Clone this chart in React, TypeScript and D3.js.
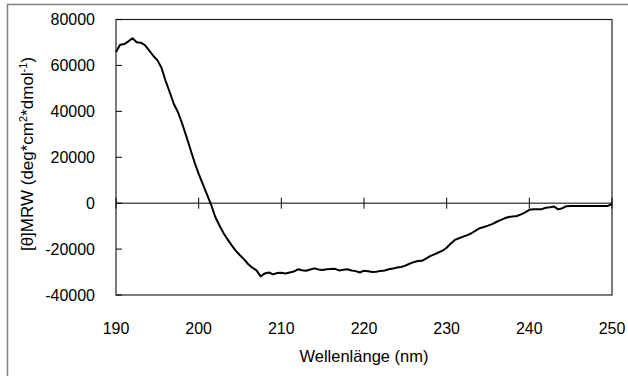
import React from "react";
import * as d3 from "d3";

// CD spectrum, mean residue ellipticity vs wavelength
const wavelengths: number[] = d3.range(190, 250.01, 0.5).map((v) => +v.toFixed(1));
const ellipticity: number[] = [
  65800, 69000, 69300, 70500, 71800, 70100, 69900, 68800, 66600, 64200,
  62300, 59000, 53300, 48300, 43200, 39600, 34700, 29200, 23500, 17800,
  12800, 8300, 3800, -600, -5900, -9600, -13000, -15800, -18400, -20800,
  -22700, -24500, -26600, -28100, -29300, -31900, -30600, -30200, -31000, -30400,
  -30300, -30600, -30200, -29800, -28800, -29200, -29400, -28900, -28400, -28900,
  -29100, -28800, -28700, -28600, -29300, -29000, -28800, -29300, -29600, -30200,
  -29400, -29700, -30000, -29900, -29500, -29300, -28800, -28500, -28000, -27800,
  -27200, -26400, -25700, -25200, -25100, -24200, -23100, -22300, -21500, -20700,
  -19400, -17600, -16000, -15300, -14600, -13900, -13100, -12000, -10900, -10400,
  -9800, -9100, -8200, -7400, -6600, -6000, -5800, -5600, -4900, -4000,
  -2900, -2700, -2700, -2600, -2000, -1800, -1500, -2700, -2200, -1300,
  -1200, -1200, -1200, -1200, -1200, -1200, -1200, -1200, -1200, -1200,
  -400,
];
const xTicks: number[] = [190, 200, 210, 220, 230, 240, 250];
const yTicks: number[] = [-40000, -20000, 0, 20000, 40000, 60000, 80000];

const W = 628;
const H = 376;
const plot = { left: 116, top: 19.5, right: 612, bottom: 295 };
const font = "'Liberation Sans', Arial, sans-serif";

export default function App() {
  const x = d3.scaleLinear().domain([190, 250]).range([plot.left, plot.right]);
  const y = d3.scaleLinear().domain([-40000, 80000]).range([plot.bottom, plot.top]);
  const pts = wavelengths.map((w, i) => [w, ellipticity[i]] as [number, number]);
  const line = d3
    .line<[number, number]>()
    .x((d) => x(d[0]))
    .y((d) => y(d[1]));
  const y0 = y(0);

  return (
    <svg
      width={W}
      height={H}
      style={{ position: "absolute", left: 0, top: 0, background: "#fff" }}
      fontFamily={font}
    >
      {/* chart frame */}
      <rect x={7.5} y={4.5} width={W + 10} height={H + 10} fill="#fff" stroke="#808080" strokeWidth={1.5} />
      {/* plot area */}
      <rect
        x={plot.left}
        y={plot.top}
        width={plot.right - plot.left}
        height={plot.bottom - plot.top}
        fill="none"
        stroke="#222"
        strokeWidth={1.2}
      />
      {/* y ticks and labels */}
      {yTicks.map((t) => (
        <g key={t}>
          <line x1={plot.left} x2={plot.left + 6} y1={y(t)} y2={y(t)} stroke="#000" strokeWidth={1} />
          <text x={95} y={y(t)} dy="0.36em" textAnchor="end" fontSize={16} fill="#000">
            {t}
          </text>
        </g>
      ))}
      {/* horizontal axis at zero */}
      <line x1={plot.left} x2={plot.right} y1={y0} y2={y0} stroke="#000" strokeWidth={1} />
      {xTicks.map((t) => (
        <g key={t}>
          <line x1={x(t)} x2={x(t)} y1={y0 - 5.5} y2={y0 + 5.5} stroke="#000" strokeWidth={1} />
          <text x={x(t)} y={334} textAnchor="middle" fontSize={16} fill="#000">
            {t}
          </text>
        </g>
      ))}
      {/* spectrum */}
      <path d={line(pts) ?? ""} fill="none" stroke="#000" strokeWidth={2} strokeLinejoin="round" />
      {/* axis titles */}
      <text x={(plot.left + plot.right) / 2} y={362} textAnchor="middle" fontSize={16.5} fill="#000">
        Wellenlänge (nm)
      </text>
      <text
        transform="translate(32.5,154) rotate(-90)"
        textAnchor="middle"
        fontSize={17}
        fill="#000"
      >
        [θ]MRW (deg*cm
        <tspan baselineShift="super" fontSize={11}>2</tspan>
        *dmol
        <tspan baselineShift="super" fontSize={11}>-1</tspan>)
      </text>
    </svg>
  );
}
